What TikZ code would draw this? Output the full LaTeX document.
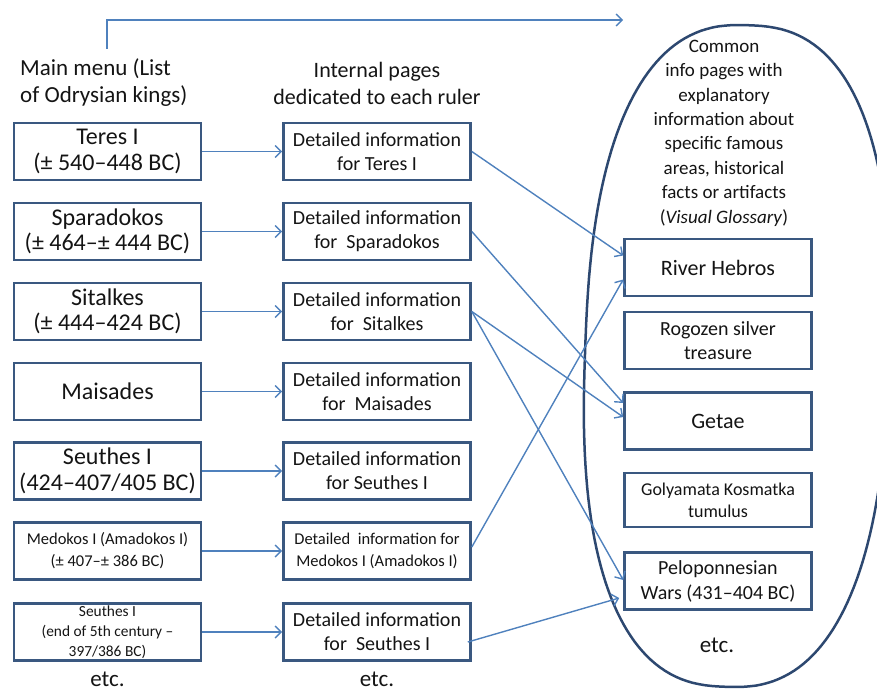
\documentclass[tikz,border=0pt]{standalone}
\usepackage{fontspec}
\setmainfont{Carlito}
\usetikzlibrary{arrows.meta,calc}
\definecolor{boxc}{RGB}{58,88,128}
\definecolor{linec}{RGB}{79,129,189}
\definecolor{ellc}{RGB}{45,72,112}
\definecolor{txtc}{RGB}{20,20,20}
\newcommand{\fsz}[2]{\fontsize{#1}{#2}\selectfont}
\begin{document}
\begin{tikzpicture}[x=1pt,y=-1pt,
  box/.style={draw=boxc,line width=2.6pt,rectangle,minimum width=187pt,minimum height=57pt,align=center,inner sep=0pt,text=txtc},
  conn/.style={draw=linec,line width=1.4pt,-{Straight Barb[length=6pt,width=12pt,line width=1.4pt]}},
  plain/.style={align=center,inner sep=0pt,text=txtc},
  big/.style={font=\fsz{24}{25.5}},
  mid/.style={font=\fsz{20}{24}},
  etcs/.style={plain,font=\fsz{23}{24},anchor=base},
  declare function={
    eu(\t)=152*cos(\t)/abs(cos(\t))*abs(cos(\t))^(0.8);
    ev(\t)=331*sin(\t)/abs(sin(\t))*abs(sin(\t))^(0.8);
  }
]
\useasboundingbox (0,0) rectangle (877,691);
\begin{scope}
\clip (0,0) rectangle (877,691);
\draw[ellc,line width=2.5pt] plot[domain=0.5:358.5,samples=180,variable=\t]
  ({737+0.9994*eu(\t)-0.0349*ev(\t)},{356+0.0349*eu(\t)+0.9994*ev(\t)}) -- cycle;
\end{scope}

% headers
\node[plain,align=left,anchor=west,font=\fsz{23}{27}] (hdr1) at (20,83) {Main menu (List\\of Odrysian kings)};
\node[plain,font=\fsz{22}{27}] (hdr2) at (377,83) {Internal pages\\dedicated to each ruler};
\node[plain,font=\fsz{19}{24.4}] (glos) at (724,133) {Common\\info pages with\\explanatory\\information about\\specific famous\\areas, historical\\facts or artifacts\\(\textit{Visual Glossary})};

% left column
\node[box,big] (k1) at (107.5,151.5) {Teres I\\(± 540–448 BC)};
\node[box,big] (k2) at (107.5,231.5) {Sparadokos\\(± 464–± 444 BC)};
\node[box,big] (k3) at (107.5,311.5) {Sitalkes\\(± 444–424 BC)};
\node[box,big] (k4) at (107.5,391.5) {Maisades};
\node[box,big] (k5) at (107.5,471) {Seuthes I\\(424–407/405 BC)};
\node[box,font=\fsz{16.5}{22}] (k6) at (107.5,551) {Medokos I (Amadokos I)\\(± 407–± 386 BC)};
\node[box,font=\fsz{15.4}{20}] (k7) at (107.5,632) {Seuthes I\\(end of 5th century –\\397/386 BC)};
\node[etcs] (e1) at (107.5,686) {etc.};

% middle column
\node[box,mid] (m1) at (377,151.5) {Detailed information\\for Teres I};
\node[box,mid] (m2) at (377,231.5) {Detailed information\\for\ \ Sparadokos};
\node[box,mid] (m3) at (377,311.5) {Detailed information\\for\ \ Sitalkes};
\node[box,mid] (m4) at (377,391.5) {Detailed information\\for\ \ Maisades};
\node[box,mid] (m5) at (377,471) {Detailed information\\for Seuthes I};
\node[box,font=\fsz{16.5}{22}] (m6) at (377,551) {Detailed\ \ information for\\Medokos I (Amadokos I)};
\node[box,mid] (m7) at (377,632) {Detailed information\\for\ \ Seuthes I};
\node[etcs] (e2) at (377,686) {etc.};

% right column
\node[box,font=\fsz{22}{24}] (r1) at (718,267.5) {River Hebros};
\node[box,mid] (r2) at (718,340.5) {Rogozen silver\\treasure};
\node[box,font=\fsz{22}{24}] (r3) at (718,421) {Getae};
\node[box,font=\fsz{18}{22},minimum height=54pt] (r4) at (718,500) {Golyamata Kosmatka\\tumulus};
\node[box,font=\fsz{20}{25}] (r5) at (718,581) {Peloponnesian\\Wars (431–404 BC)};
\node[etcs] (e3) at (717,652) {etc.};

% top arrow
\coordinate (topend) at (623,20);
\draw[conn] ($(hdr1.north west)+(87,-10)$) |- (topend);

% left to middle
\foreach \i in {1,...,7} {\draw[conn] (k\i) -- (m\i);}

% middle to right
\draw[conn] (m1.east) -- ($(r1.west)+(0,-12)$);
\draw[conn] (m2.east) -- ($(r3.west)+(0,-18)$);
\draw[conn] (m3.east) -- ($(r3.west)+(0,-4)$);
\draw[conn] (m3.east) -- ($(r5.west)+(0,-1)$);
\draw[conn] ($(m6.east)+(0,-4)$) -- ($(r1.west)+(0,12)$);
\draw[conn] ($(m7.east)+(-4,10)$) -- ($(r5.west)+(-4,17)$);
\end{tikzpicture}
\end{document}
